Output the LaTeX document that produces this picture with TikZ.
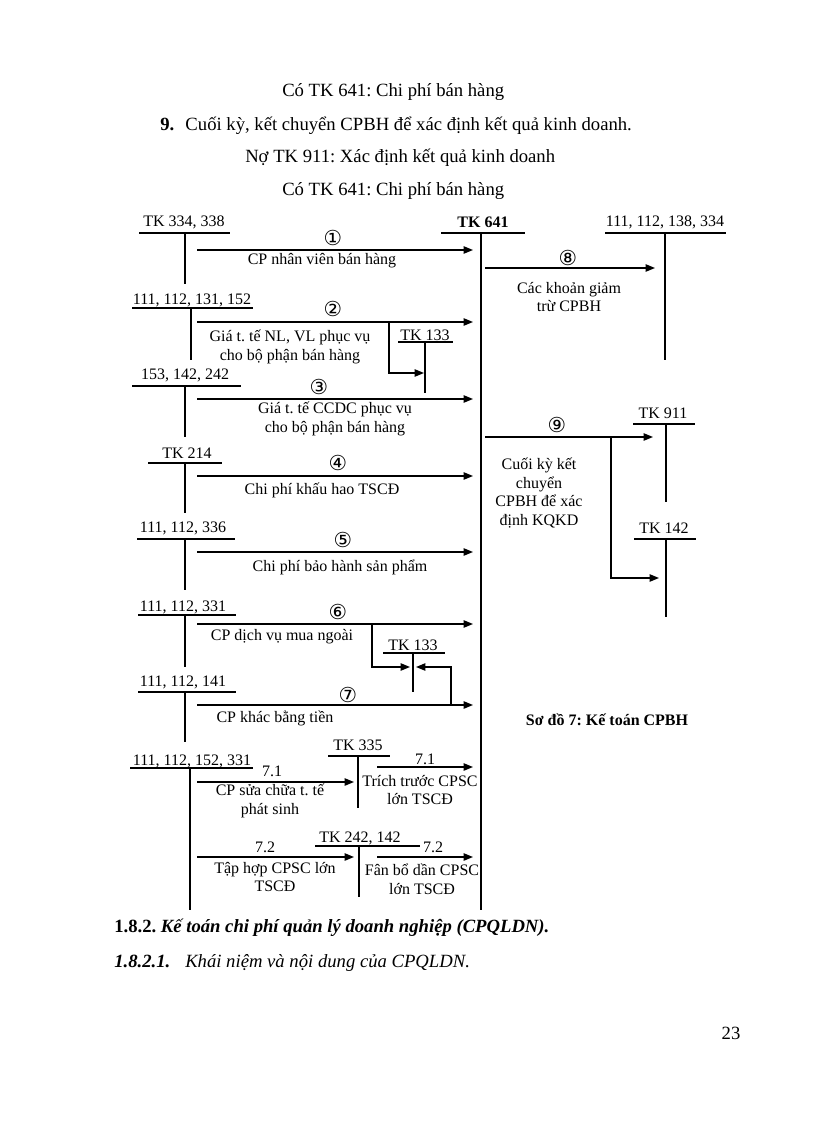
\documentclass[tikz,border=0pt]{standalone}
\usepackage{fontspec}
\setmainfont{Liberation Serif}
\newfontfamily\circfont{DejaVu Sans}
\usetikzlibrary{arrows.meta}
\frenchspacing
\begin{document}
\begin{tikzpicture}[x=0.75pt,y=-0.75pt,
  acc/.style={line width=1.5pt},
  arr/.style={line width=1pt,-{Triangle[length=7pt,width=5.5pt]}},
  hd/.style={font=\fontsize{14}{17}\selectfont,inner sep=0pt,anchor=base west},
  lab/.style={font=\fontsize{12}{14}\selectfont,inner sep=0pt},
  txt/.style={font=\fontsize{12}{14.2}\selectfont,inner sep=0pt,align=center},
  num/.style={font=\circfont\fontsize{15.5}{17}\selectfont,inner sep=0pt},
  sm/.style={font=\fontsize{12}{14}\selectfont,inner sep=0pt}
]
\useasboundingbox (0,0) rectangle (816,1123);

% header text
\node[hd] (h1) at (282,97) {Có TK 641: Chi phí bán hàng};
\node[hd] (h2) at (160,131) {\textbf{9.}\hspace{0.6em}Cuối kỳ, kết chuyển CPBH để xác định kết quả kinh doanh.};
\node[hd] (h3) at (245,163) {Nợ TK 911: Xác định kết quả kinh doanh};
\node[hd] (h4) at (282,196) {Có TK 641: Chi phí bán hàng};

% ---------- TK 641 ----------
\node[lab,font=\fontsize{12}{14}\selectfont\bfseries] (l641) at (483,222) {TK 641};
\coordinate (k641a) at (441,233); \coordinate (k641b) at (525,233);
\coordinate (k641t) at (481,233); \coordinate (k641e) at (481,910);
\draw[acc] (k641a) -- (k641b); \draw[acc] (k641t) -- (k641e);

% ---------- right: 111,112,138,334 ----------
\node[lab] (lr1) at (665,222) {111, 112, 138, 334};
\coordinate (r1a) at (605,233); \coordinate (r1b) at (726,233);
\coordinate (r1t) at (665,233); \coordinate (r1e) at (665,360);
\draw[acc] (r1a) -- (r1b); \draw[acc] (r1t) -- (r1e);
\coordinate (a8s) at (485,268); \coordinate (a8e) at (655,268);
\draw[arr] (a8s) -- (a8e);
\node[num] (n8) at (568,258) {⑧};
\node[txt] (t8) at (569,297) {Các khoản giảm\\trừ CPBH};

% ---------- TK 911 / TK 142 ----------
\node[lab] (l911) at (663,413) {TK 911};
\coordinate (k911a) at (633,424); \coordinate (k911b) at (695,424);
\coordinate (k911t) at (666,424); \coordinate (k911e) at (666,502);
\draw[acc] (k911a) -- (k911b); \draw[acc] (k911t) -- (k911e);
\node[lab] (l142) at (664,528) {TK 142};
\coordinate (k142a) at (634,539); \coordinate (k142b) at (696,539);
\coordinate (k142t) at (666,539); \coordinate (k142e) at (666,617);
\draw[acc] (k142a) -- (k142b); \draw[acc] (k142t) -- (k142e);
\coordinate (a9s) at (485,437); \coordinate (a9e) at (653,437);
\draw[arr] (a9s) -- (a9e);
\coordinate (b9s) at (611,437); \coordinate (b9m) at (611,578); \coordinate (b9e) at (659,578);
\draw[arr] (b9s) -- (b9m) -- (b9e);
\node[num] (n9) at (557,425) {⑨};
\node[txt] (t9) at (539,493) {Cuối kỳ kết\\chuyển\\CPBH để xác\\định KQKD};

\node[lab,font=\fontsize{12}{14}\selectfont\bfseries] (cap) at (607,720) {Sơ đồ 7: Kế toán CPBH};

% ---------- left 1: TK 334, 338 ----------
\node[lab] (ll1) at (184,222) {TK 334, 338};
\coordinate (l1a) at (139,233); \coordinate (l1b) at (230,233);
\coordinate (l1t) at (185,233); \coordinate (l1e) at (185,284);
\draw[acc] (l1a) -- (l1b); \draw[acc] (l1t) -- (l1e);
\coordinate (a1s) at (197,250); \coordinate (a1e) at (473,250);
\draw[arr] (a1s) -- (a1e);
\node[num] (n1) at (333,238) {①};
\node[txt] (t1) at (322,261) {CP nhân viên bán hàng};

% ---------- left 2 ----------
\node[lab] (ll2) at (192,300) {111, 112, 131, 152};
\coordinate (l2a) at (132,308); \coordinate (l2b) at (253,308);
\coordinate (l2t) at (191,308); \coordinate (l2e) at (191,360);
\draw[acc] (l2a) -- (l2b); \draw[acc] (l2t) -- (l2e);
\coordinate (a2s) at (197,322); \coordinate (a2e) at (473,322);
\draw[arr] (a2s) -- (a2e);
\node[num] (n2) at (333,309) {②};
\node[txt] (t2) at (290,347) {Giá t. tế NL, VL phục vụ\\cho bộ phận bán hàng};
\node[lab] (l133a) at (425,335) {TK 133};
\coordinate (k133aa) at (398,342); \coordinate (k133ab) at (453,342);
\coordinate (k133at) at (425,342); \coordinate (k133ae) at (425,393);
\draw[acc] (k133aa) -- (k133ab); \draw[acc] (k133at) -- (k133ae);
\coordinate (b2s) at (389,322); \coordinate (b2m) at (389,373); \coordinate (b2e) at (424,373);
\draw[arr] (b2s) -- (b2m) -- (b2e);

% ---------- left 3 ----------
\node[lab] (ll3) at (185,375) {153, 142, 242};
\coordinate (l3a) at (132,386); \coordinate (l3b) at (241,386);
\coordinate (l3t) at (185,386); \coordinate (l3e) at (185,437);
\draw[acc] (l3a) -- (l3b); \draw[acc] (l3t) -- (l3e);
\coordinate (a3s) at (197,399); \coordinate (a3e) at (473,399);
\draw[arr] (a3s) -- (a3e);
\node[num] (n3) at (319,387) {③};
\node[txt] (t3) at (335,419) {Giá t. tế CCDC phục vụ\\cho bộ phận bán hàng};

% ---------- left 4 ----------
\node[lab] (ll4) at (187,453) {TK 214};
\coordinate (l4a) at (148,463); \coordinate (l4b) at (222,463);
\coordinate (l4t) at (185,463); \coordinate (l4e) at (185,513);
\draw[acc] (l4a) -- (l4b); \draw[acc] (l4t) -- (l4e);
\coordinate (a4s) at (197,476); \coordinate (a4e) at (473,476);
\draw[arr] (a4s) -- (a4e);
\node[num] (n4) at (338,463) {④};
\node[txt] (t4) at (322,490) {Chi phí khấu hao TSCĐ};

% ---------- left 5 ----------
\node[lab] (ll5) at (183,528) {111, 112, 336};
\coordinate (l5a) at (137,539); \coordinate (l5b) at (235,539);
\coordinate (l5t) at (185,539); \coordinate (l5e) at (185,590);
\draw[acc] (l5a) -- (l5b); \draw[acc] (l5t) -- (l5e);
\coordinate (a5s) at (197,552); \coordinate (a5e) at (473,552);
\draw[arr] (a5s) -- (a5e);
\node[num] (n5) at (343,540) {⑤};
\node[txt] (t5) at (340,567) {Chi phí bảo hành sản phẩm};

% ---------- left 6 ----------
\node[lab] (ll6) at (183,607) {111, 112, 331};
\coordinate (l6a) at (138,615); \coordinate (l6b) at (236,615);
\coordinate (l6t) at (185,615); \coordinate (l6e) at (185,667);
\draw[acc] (l6a) -- (l6b); \draw[acc] (l6t) -- (l6e);
\coordinate (a6s) at (197,624); \coordinate (a6e) at (473,624);
\draw[arr] (a6s) -- (a6e);
\node[num] (n6) at (338,612) {⑥};
\node[txt] (t6) at (282,637) {CP dịch vụ mua ngoài};
\node[lab] (l133b) at (413,645) {TK 133};
\coordinate (k133ba) at (383,653); \coordinate (k133bb) at (445,653);
\coordinate (k133bt) at (413,653); \coordinate (k133be) at (413,692);
\draw[acc] (k133ba) -- (k133bb); \draw[acc] (k133bt) -- (k133be);
\coordinate (b6s) at (372,624); \coordinate (b6m) at (372,667); \coordinate (b6e) at (410,667);
\draw[arr] (b6s) -- (b6m) -- (b6e);

% ---------- left 7 ----------
\node[lab] (ll7) at (183,682) {111, 112, 141};
\coordinate (l7a) at (138,692); \coordinate (l7b) at (236,692);
\coordinate (l7t) at (185,692); \coordinate (l7e) at (185,742);
\draw[acc] (l7a) -- (l7b); \draw[acc] (l7t) -- (l7e);
\coordinate (a7s) at (197,705); \coordinate (a7e) at (473,705);
\draw[arr] (a7s) -- (a7e);
\node[num] (n7) at (348,695) {⑦};
\node[txt] (t7) at (275,718) {CP khác bằng tiền};
\coordinate (b7s) at (451,705); \coordinate (b7m) at (451,667); \coordinate (b7e) at (416,667);
\draw[arr] (b7s) -- (b7m) -- (b7e);

% ---------- left 8 ----------
\node[lab] (ll8) at (192,761) {111, 112, 152, 331};
\coordinate (l8a) at (130,768); \coordinate (l8b) at (253,768);
\coordinate (l8t) at (190,768); \coordinate (l8e) at (190,910);
\draw[acc] (l8a) -- (l8b); \draw[acc] (l8t) -- (l8e);

\node[lab] (l335) at (358,745) {TK 335};
\coordinate (k335a) at (328,756); \coordinate (k335b) at (390,756);
\coordinate (k335t) at (358,756); \coordinate (k335e) at (358,808);
\draw[acc] (k335a) -- (k335b); \draw[acc] (k335t) -- (k335e);
\coordinate (a71s) at (197,782); \coordinate (a71e) at (354,782);
\draw[arr] (a71s) -- (a71e);
\node[sm] (n71a) at (272,771) {7.1};
\node[txt] (t71a) at (270,801) {CP sửa chữa t. tế\\phát sinh};
\coordinate (a71bs) at (377,767); \coordinate (a71be) at (473,767);
\draw[arr] (a71bs) -- (a71be);
\node[sm] (n71b) at (425,759) {7.1};
\node[txt] (t71b) at (420,790) {Trích trước CPSC\\lớn TSCĐ};

\node[lab] (l242) at (360,838) {TK 242, 142};
\coordinate (k242a) at (315,846); \coordinate (k242b) at (420,846);
\coordinate (k242t) at (359,846); \coordinate (k242e) at (359,897);
\draw[acc] (k242a) -- (k242b); \draw[acc] (k242t) -- (k242e);
\coordinate (a72s) at (197,857); \coordinate (a72e) at (354,857);
\draw[arr] (a72s) -- (a72e);
\node[sm] (n72a) at (265,847) {7.2};
\node[txt] (t72a) at (275,877) {Tập hợp CPSC lớn\\TSCĐ};
\coordinate (a72bs) at (377,857); \coordinate (a72be) at (473,857);
\draw[arr] (a72bs) -- (a72be);
\node[sm] (n72b) at (433,847) {7.2};
\node[txt] (t72b) at (422,879) {Fân bổ dần CPSC\\lớn TSCĐ};

% bottom text
\node[hd] (s1) at (114,932) {{\bfseries 1.8.2.} {\bfseries\itshape Kế toán chi phí quản lý doanh nghiệp (CPQLDN).}};
\node[hd] (s2) at (114,967) {{\bfseries\itshape 1.8.2.1.}};
\node[hd] (s2b) at (185,967) {{\itshape Khái niệm và nội dung của CPQLDN.}};
\node[font=\fontsize{14}{17}\selectfont,inner sep=0pt] (pg) at (731,1033) {23};
\end{tikzpicture}
\end{document}
